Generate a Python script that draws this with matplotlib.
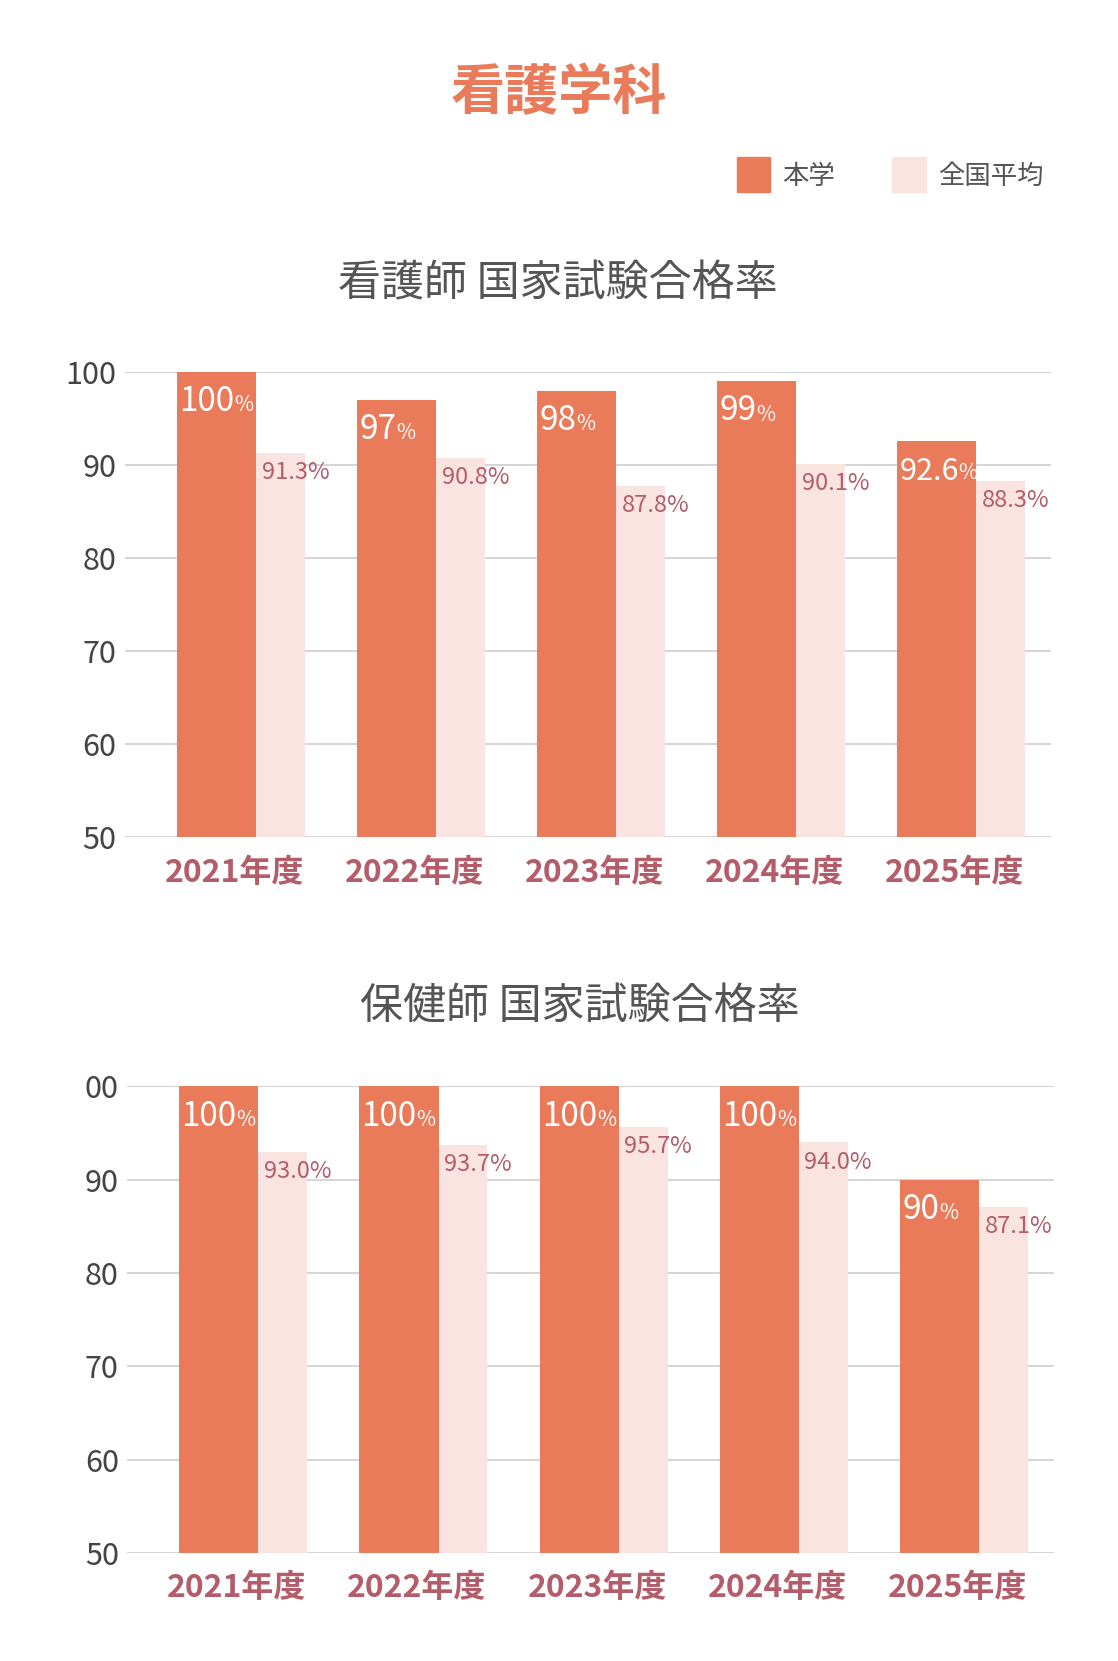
import matplotlib.pyplot as plt
from matplotlib.patches import Rectangle
import numpy as np

plt.rcParams['font.family'] = ['Noto Sans CJK JP', 'DejaVu Sans']

# データ
years = ['2021年度', '2022年度', '2023年度', '2024年度', '2025年度']
kango_school = [100, 97, 98, 99, 92.6]
kango_school_lbl = ['100', '97', '98', '99', '92.6']
kango_nation = [91.3, 90.8, 87.8, 90.1, 88.3]
hoken_school = [100, 100, 100, 100, 90]
hoken_school_lbl = ['100', '100', '100', '100', '90']
hoken_nation = [93.0, 93.7, 95.7, 94.0, 87.1]
yticks = [50, 60, 70, 80, 90, 100]
yticklabels_1 = ['50', '60', '70', '80', '90', '100']
yticklabels_2 = ['50', '60', '70', '80', '90', '00']

ORANGE = '#E97B5B'
LIGHT = '#FAE4E2'
ROSE = '#B45C69'
GRAY = '#555555'

fig = plt.figure(figsize=(11.18, 16.61), dpi=100)

# タイトル
fig.text(0.5, 0.9438, '看護学科', ha='center', va='center',
         fontsize=39, fontweight='bold', color=ORANGE)

# 凡例
fig.patches.append(Rectangle((0.6588, 0.8845), 0.0303, 0.021,
                             transform=fig.transFigure, color=ORANGE))
fig.text(0.6995, 0.8935, '本学', ha='left', va='center', fontsize=19, color=GRAY)
fig.patches.append(Rectangle((0.798, 0.8845), 0.0303, 0.021,
                             transform=fig.transFigure, color=LIGHT))
fig.text(0.839, 0.8935, '全国平均', ha='left', va='center', fontsize=19, color=GRAY)


def draw_chart(rect, school, school_lbl, nation, yticklabels):
    ax = fig.add_axes(rect)
    x = np.arange(len(years))
    w1 = 0.44
    w2 = 0.27
    ax.bar(x, [v - 50 for v in school], width=w1, bottom=50, color=ORANGE,
           align='center', zorder=2)
    ax.bar(x + w1 / 2, [v - 50 for v in nation], width=w2, bottom=50,
           color=LIGHT, align='edge', zorder=2)

    for i in range(len(years)):
        size = 22 if '.' in school_lbl[i] else 24
        t = ax.text(x[i] - w1 / 2 + 0.012, school[i] - 4.2, school_lbl[i],
                    ha='left', va='baseline', fontsize=size, color='white',
                    zorder=3)
        ax.annotate('%', xy=(1, 0), xycoords=t, xytext=(0, 2),
                    textcoords='offset points', ha='left', va='bottom',
                    fontsize=15, color='white', zorder=3)
        ax.text(x[i] + w1 / 2 + 0.03, nation[i] - 2.1, '%.1f%%' % nation[i],
                ha='left', va='center', fontsize=17, color=ROSE, zorder=3)

    ax.set_xlim(-0.509, 4.637)
    ax.set_ylim(50, 100)
    ax.set_yticks(yticks)
    ax.set_yticklabels(yticklabels, fontsize=22, color='#444444')
    ax.set_xticks(x + 0.1)
    ax.set_xticklabels(years, fontsize=23, fontweight='bold', color=ROSE)
    ax.tick_params(axis='both', length=0)
    ax.tick_params(axis='y', pad=6)
    ax.tick_params(axis='x', pad=14)
    ax.grid(axis='y', color='#d6d6d6', linewidth=1.5, zorder=0)
    ax.set_axisbelow(True)
    for s in ax.spines.values():
        s.set_visible(False)
    return ax


fig.text(0.4986, 0.829, '看護師 国家試験合格率', ha='center', va='center',
         fontsize=31, color=GRAY)
draw_chart([0.1118, 0.4959, 0.8285, 0.2801], kango_school, kango_school_lbl,
           kango_nation, yticklabels_1)

fig.text(0.5185, 0.3937, '保健師 国家試験合格率', ha='center', va='center',
         fontsize=31, color=GRAY)
draw_chart([0.1137, 0.0651, 0.8294, 0.2808], hoken_school, hoken_school_lbl,
           hoken_nation, yticklabels_2)

plt.savefig('out.png', dpi=100)
